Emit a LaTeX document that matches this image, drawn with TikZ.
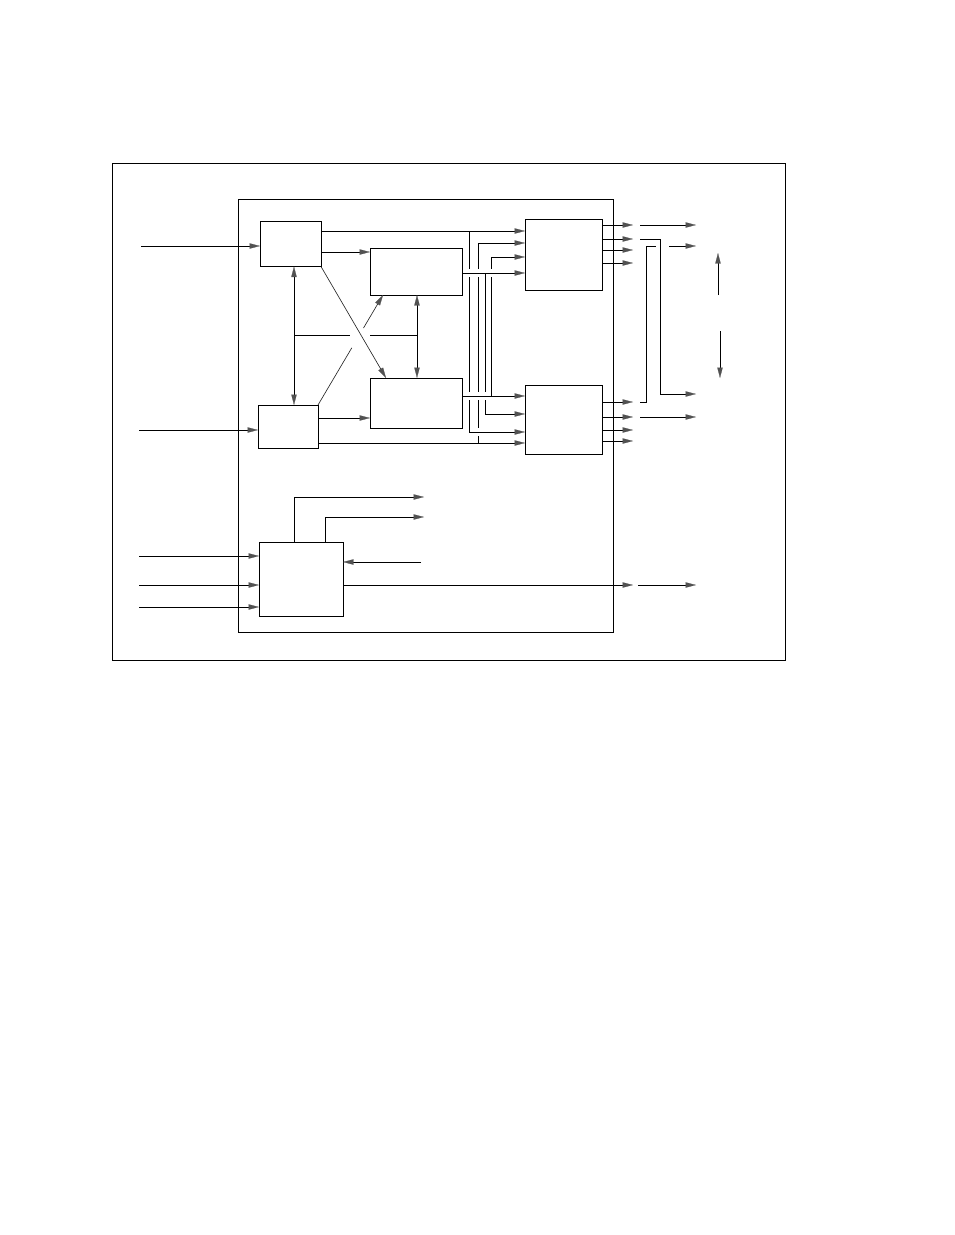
\documentclass[tikz,border=0pt]{standalone}
\usetikzlibrary{arrows.meta,calc}
\begin{document}
\begin{tikzpicture}[x=1pt,y=-1pt,
  frame/.style={draw,line width=1pt,inner sep=0pt,outer sep=0pt},
  blk/.style={draw,line width=1pt,inner sep=0pt,outer sep=0pt},
  wire/.style={line width=1pt,line cap=butt},
  gtip/.tip={Triangle[length=10.5pt,width=5.4pt,color=black!68,fill=black!68,line width=0.2pt]},
  arr/.style={wire,-gtip},
  darr/.style={wire,gtip-gtip},
  diag/.style={line width=0.65pt,draw=black!85},
]
\useasboundingbox (0,0) rectangle (954,1235);

% frames
\node[frame,minimum width=673pt,minimum height=497pt] (outer) at (448.5,411.5) {};
\node[frame,minimum width=375pt,minimum height=433pt] (inner) at (425.5,415.5) {};

% blocks
\node[blk,minimum width=61pt,minimum height=45pt] (A) at (290.5,244) {};
\node[blk,minimum width=60pt,minimum height=43pt] (B) at (288,426.5) {};
\node[blk,minimum width=92pt,minimum height=47pt] (C) at (416,271.5) {};
\node[blk,minimum width=92pt,minimum height=50pt] (D) at (416,403) {};
\node[blk,minimum width=77pt,minimum height=71pt] (E) at (563.5,254.5) {};
\node[blk,minimum width=77pt,minimum height=69pt] (F) at (563.5,419.5) {};
\node[blk,minimum width=84pt,minimum height=74pt] (G) at (301,579) {};

% level coordinates
\coordinate (y231) at (0,231);
\coordinate (y243) at (0,243);
\coordinate (yAC) at (0,252);
\coordinate (y257) at (0,257);
\coordinate (yC) at (0,273);
\coordinate (yD) at (0,396);
\coordinate (y414) at (0,414);
\coordinate (yBD) at (0,418);
\coordinate (y432) at (0,432);
\coordinate (y443) at (0,443);
\coordinate (y497) at (0,497);
\coordinate (y517) at (0,517);
\coordinate (y585) at (0,585);
\coordinate (b1) at (469,0);
\coordinate (b2) at (478,0);
\coordinate (b3) at (485,0);
\coordinate (b4) at (491,0);
\coordinate (xo) at (633,0);

% inputs
\coordinate (inA) at (141,246);
\coordinate (inB) at (139,430);
\coordinate (inG1) at (139,556);
\coordinate (inG2) at (139,585);
\coordinate (inG3) at (139,607);
\draw[arr] (inA) -- (inA -| A.west);
\draw[arr] (inB) -- (inB -| B.west);
\draw[arr] (inG1) -- (inG1 -| G.west);
\draw[arr] (inG2) -- (inG2 -| G.west);
\draw[arr] (inG3) -- (inG3 -| G.west);

% left block connections
\draw[arr] (A.east |- yAC) -- (C.west |- yAC);
\draw[arr] (A.east |- y231) -- (E.west |- y231);
\draw[arr] (B.east |- yBD) -- (D.west |- yBD);
\draw[arr] (B.east |- y443) -- (F.west |- y443);

\coordinate (xAB) at (294,0);
\coordinate (xCD) at (417,0);
\draw[darr] (A.south -| xAB) -- (B.north -| xAB);
\draw[darr] (C.south -| xCD) -- (D.north -| xCD);
\coordinate (m1) at (294,335);
\coordinate (m2) at (350,335);
\coordinate (m3) at (370,335);
\coordinate (m4) at (417,335);
\draw[wire] (m1) -- (m2);
\draw[wire] (m3) -- (m4);

% diagonals
\coordinate (xD) at (386,0);
\coordinate (xC) at (383,0);
\draw[diag,-gtip] (A.south east) -- (D.north -| xD);
\draw[diag] (B.north east) -- ($(B.north east)!0.52!(C.south -| xC)$);
\draw[diag,-gtip] ($(B.north east)!0.70!(C.south -| xC)$) -- (C.south -| xC);

% middle outputs
\draw[arr] (C.east |- yC) -- (E.west |- yC);
\draw[arr] (D.east |- yD) -- (F.west |- yD);

% bus
\draw[wire] (b1 |- y231) -- ($(b1 |- yC)+(0,-4)$);
\draw[wire] ($(b1 |- yC)+(0,4)$) -- ($(b1 |- yD)+(0,-4)$);
\draw[arr] ($(b1 |- yD)+(0,4)$) -- (b1 |- y432) -- (F.west |- y432);

\draw[arr] ($(b2 |- yC)+(0,-4)$) -- (b2 |- y243) -- (E.west |- y243);
\draw[wire] ($(b2 |- yC)+(0,4)$) -- ($(b2 |- yD)+(0,-4)$);
\draw[wire] ($(b2 |- yD)+(0,4)$) -- ($(b2 |- y432)+(0,-4)$);
\draw[wire] ($(b2 |- y432)+(0,4)$) -- (b2 |- y443);

\draw[wire] (b3 |- yC) -- ($(b3 |- yD)+(0,-4)$);
\draw[arr] ($(b3 |- yD)+(0,4)$) -- (b3 |- y414) -- (F.west |- y414);

\draw[arr] ($(b4 |- yC)+(0,-4)$) -- (b4 |- y257) -- (E.west |- y257);
\draw[wire] ($(b4 |- yC)+(0,4)$) -- (b4 |- yD);

% outputs of E and F
\foreach \yy in {225,239,250,263} {
  \coordinate (t) at (0,\yy);
  \draw[arr] (E.east |- t) -- (xo |- t);
}
\foreach \yy in {402,417,430,441} {
  \coordinate (t) at (0,\yy);
  \draw[arr] (F.east |- t) -- (xo |- t);
}

% outside lines
\coordinate (o1s) at (640,225); \coordinate (o1e) at (696,225);
\draw[arr] (o1s) -- (o1e);
\coordinate (o2s) at (640,239); \coordinate (o2a) at (660,239);
\coordinate (o2b) at (660,394); \coordinate (o2e) at (696,394);
\draw[arr] (o2s) -- (o2a) -- (o2b) -- (o2e);
\coordinate (o3s) at (640,402); \coordinate (o3a) at (646,402);
\coordinate (o3b) at (646,246); \coordinate (o3c) at (656,246);
\draw[wire] (o3s) -- (o3a) -- (o3b) -- (o3c);
\coordinate (o3d) at (669,246); \coordinate (o3e) at (696,246);
\draw[arr] (o3d) -- (o3e);
\coordinate (o4s) at (640,417); \coordinate (o4e) at (696,417);
\draw[arr] (o4s) -- (o4e);
\coordinate (u1) at (718,295); \coordinate (u2) at (718,253);
\draw[arr] (u1) -- (u2);
\coordinate (d1) at (720,331); \coordinate (d2) at (720,378);
\draw[arr] (d1) -- (d2);

% block G connections
\coordinate (gx1) at (294,0);
\coordinate (gx2) at (325,0);
\coordinate (gend) at (424,0);
\draw[arr] (G.north -| gx1) -- (gx1 |- y497) -- (gend |- y497);
\draw[arr] (G.north -| gx2) -- (gx2 |- y517) -- (gend |- y517);
\coordinate (gin) at (421,562);
\draw[arr] (gin) -- (gin -| G.east);
\draw[arr] (G.east |- y585) -- (xo |- y585);
\coordinate (g5s) at (638,585); \coordinate (g5e) at (696,585);
\draw[arr] (g5s) -- (g5e);
\end{tikzpicture}
\end{document}
